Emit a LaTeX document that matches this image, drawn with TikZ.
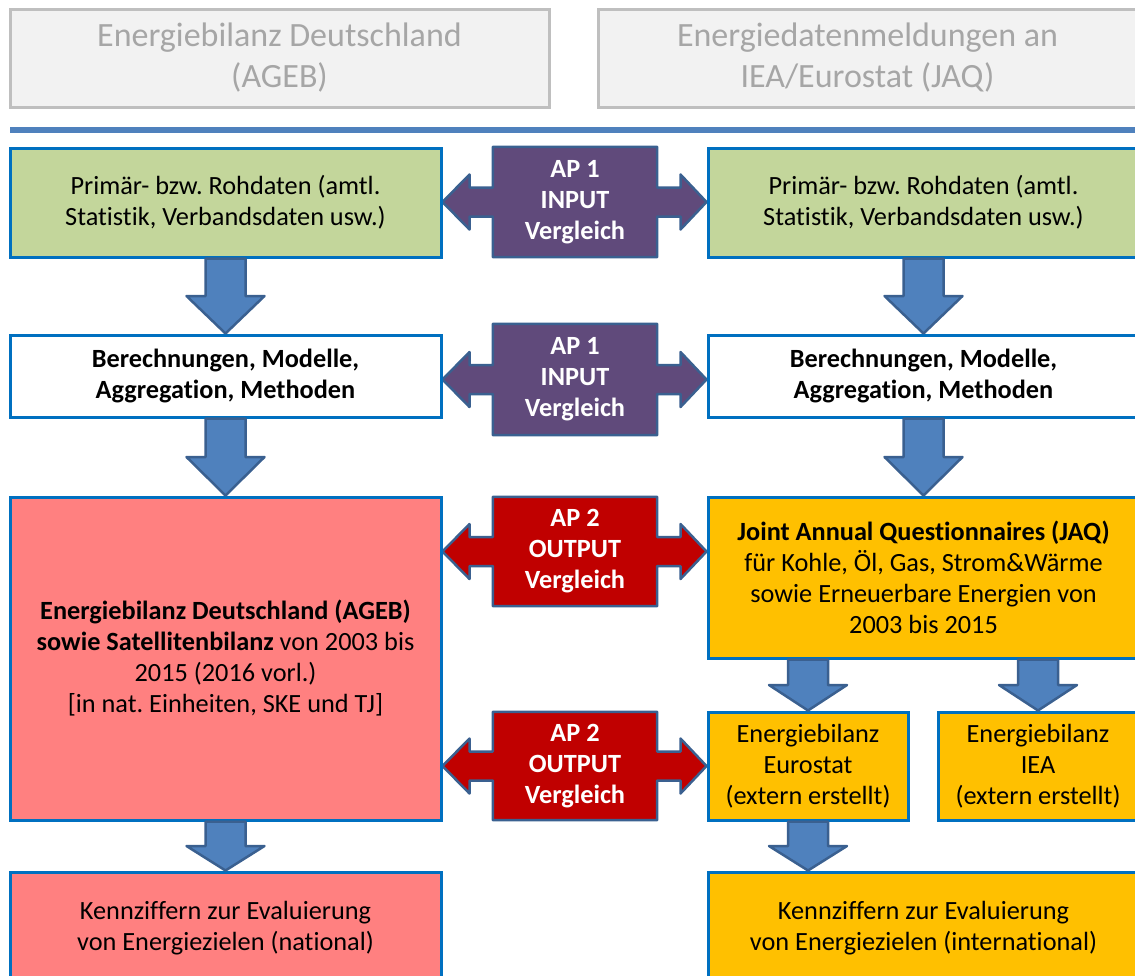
\documentclass[tikz,border=0pt]{standalone}
\usepackage{fontspec}
\setmainfont{Carlito}[Ligatures={NoCommon}]
\frenchspacing
\usetikzlibrary{calc, backgrounds}

\definecolor{boxblue}{HTML}{0070C0}
\definecolor{primgreen}{HTML}{C3D69B}
\definecolor{agebred}{HTML}{FF8080}
\definecolor{jaqyellow}{HTML}{FFC000}
\definecolor{appurple}{HTML}{604A7B}
\definecolor{apred}{HTML}{C00000}
\definecolor{arrowblue}{HTML}{4F81BD}
\definecolor{arrowedge}{HTML}{3A6090}

\tikzset{
  headbox/.style={draw=black!25, fill=black!5, line width=3pt,
    text=black!35, align=center, minimum width=539pt, minimum height=98pt,
    font=\fontsize{34}{41}\selectfont},
  box/.style={draw=boxblue, line width=3pt, align=center, inner sep=0pt,
    minimum width=431pt, font=\fontsize{26.3}{31}\selectfont},
  smallbox/.style={box, minimum width=200pt, minimum height=108pt, fill=jaqyellow},
  aptext/.style={text=white, align=center, minimum width=164pt,
    font=\bfseries\fontsize{26.3}{31}\selectfont},
  aparrowline/.style={draw=arrowedge, line width=2.5pt, line join=round},
  blockarrow/.style={draw=arrowedge, fill=arrowblue, line width=2.5pt, line join=round}
}

% double block arrow: left box, AP node, right box, colour
\newcommand{\aparrow}[4]{%
\begin{pgfonlayer}{background}
\draw[aparrowline, fill=#4] let \p1=(#2.north west), \p2=(#2.south east),
    \p3=(#1.east |- #2.center), \p4=(#3.west |- #2.center) in
  (\p3) -- (\x3+27pt,\y3+27.5pt) -- (\x3+27pt,\y3+14.5pt) -- (\x1,\y3+14.5pt)
  -- (\x1,\y1) -- (\x2,\y1) -- (\x2,\y3+14.5pt) -- (\x4-26pt,\y3+14.5pt)
  -- (\x4-26pt,\y3+27.5pt) -- (\p4) -- (\x4-26pt,\y3-27.5pt) -- (\x4-26pt,\y3-14.5pt)
  -- (\x2,\y3-14.5pt) -- (\x2,\y2) -- (\x1,\y2) -- (\x1,\y3-14.5pt)
  -- (\x3+27pt,\y3-14.5pt) -- (\x3+27pt,\y3-27.5pt) -- cycle;
\end{pgfonlayer}}

% block arrow downwards: from box, to box, box that gives the x
\newcommand{\downblock}[3]{%
\draw[blockarrow] let \p1=(#1.south -| #3.center), \p2=(#2.north -| #3.center),
    \p3=($(\p1)!.5!(\p2)$) in
  (\x1-20pt,\y1) -- (\x1+20pt,\y1) -- (\x1+20pt,\y3) -- (\x1+39pt,\y3)
  -- (\p2) -- (\x1-39pt,\y3) -- (\x1-20pt,\y3) -- cycle;}

\begin{document}
\begin{tikzpicture}[x=1pt, y=-1pt]
\path[use as bounding box] (0,0) rectangle (1135,975);
\clip (0,0) rectangle (1135,975);

% headings
\node[headbox] (hageb) at (279.5,58) {Energiebilanz Deutschland\\(AGEB)};
\node[headbox] (hjaq) at (867.5,58) {Energiedatenmeldungen an\\IEA/Eurostat (JAQ)};
\draw[arrowblue, line width=6pt] (10,130) -- (1140,130);

% left column (AGEB)
\node[box, fill=primgreen, minimum height=109pt] (primL) at (225.5,202.5)
  {Primär- bzw. Rohdaten (amtl.\\Statistik, Verbandsdaten usw.)};
\node[box, fill=white, minimum height=82pt, font=\bfseries\fontsize{26.3}{31}\selectfont]
  (calcL) at (225.5,376) {Berechnungen, Modelle,\\Aggregation, Methoden};
\node[box, fill=agebred, minimum height=323pt] (agebL) at (225.5,658.5)
  {\textbf{Energiebilanz Deutschland (AGEB)}\\\textbf{sowie Satellitenbilanz} von 2003 bis\\
   2015 (2016 vorl.)\\{[in nat. Einheiten, SKE und TJ]}};
\node[box, fill=agebred, minimum height=112pt] (kennL) at (225.5,928)
  {Kennziffern zur Evaluierung\\von Energiezielen (national)};

% right column (JAQ)
\node[box, fill=primgreen, minimum height=109pt] (primR) at (923.5,202.5)
  {Primär- bzw. Rohdaten (amtl.\\Statistik, Verbandsdaten usw.)};
\node[box, fill=white, minimum height=82pt, font=\bfseries\fontsize{26.3}{31}\selectfont]
  (calcR) at (923.5,376) {Berechnungen, Modelle,\\Aggregation, Methoden};
\node[box, fill=jaqyellow, minimum height=161pt] (jaqR) at (923.5,577.5)
  {\textbf{Joint Annual Questionnaires (JAQ)}\\für Kohle, Öl, Gas, Strom\&Wärme\\
   sowie Erneuerbare Energien von\\2003 bis 2015};
\node[smallbox] (euro) at (808,766) {Energiebilanz\\Eurostat\\(extern erstellt)};
\node[smallbox] (iea) at (1038,766) {Energiebilanz\\IEA\\(extern erstellt)};
\node[box, fill=jaqyellow, minimum height=112pt] (kennR) at (923.5,928)
  {Kennziffern zur Evaluierung\\von Energiezielen (international)};

% comparison arrows
\node[aptext, minimum height=110pt] (apa) at (575,202) {AP 1\\INPUT\\Vergleich};
\node[aptext, minimum height=111pt] (apb) at (575,379.5) {AP 1\\INPUT\\Vergleich};
\node[aptext, minimum height=109pt] (apc) at (575,551.5) {AP 2\\OUTPUT\\Vergleich};
\node[aptext, minimum height=108pt] (apd) at (575,766) {AP 2\\OUTPUT\\Vergleich};
\aparrow{primL}{apa}{primR}{appurple}
\aparrow{calcL}{apb}{calcR}{appurple}
\aparrow{agebL}{apc}{jaqR}{apred}
\aparrow{agebL}{apd}{euro}{apred}

% flow arrows
\downblock{primL}{calcL}{calcL}
\downblock{calcL}{agebL}{agebL}
\downblock{agebL}{kennL}{kennL}
\downblock{primR}{calcR}{calcR}
\downblock{calcR}{jaqR}{jaqR}
\downblock{jaqR}{euro}{euro}
\downblock{jaqR}{iea}{iea}
\downblock{euro}{kennR}{euro}
\end{tikzpicture}
\end{document}
